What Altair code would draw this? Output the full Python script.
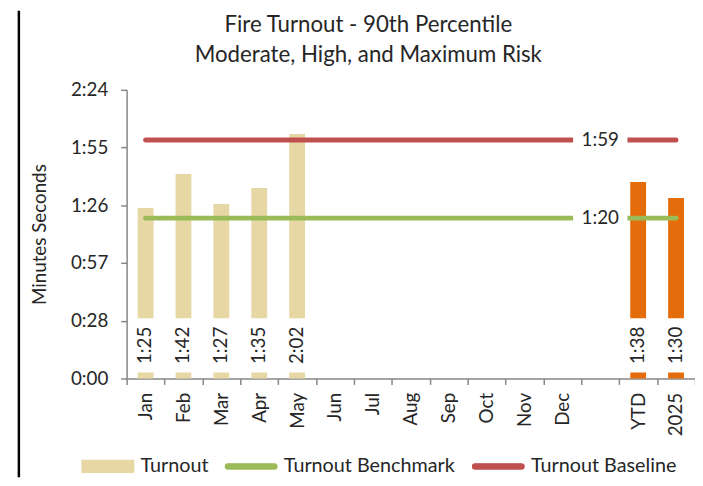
import altair as alt
import pandas as pd

# ---- data ----
categories = ["Jan", "Feb", "Mar", "Apr", "May", "Jun", "Jul", "Aug", "Sep",
              "Oct", "Nov", "Dec", " ", "YTD", "2025"]
bar_categories = ["Jan", "Feb", "Mar", "Apr", "May", "YTD", "2025"]
bar_seconds = [85, 102, 87, 95, 122, 98, 90]
bar_labels = ["1:25", "1:42", "1:27", "1:35", "2:02", "1:38", "1:30"]
bar_groups = ["Monthly", "Monthly", "Monthly", "Monthly", "Monthly", "Summary", "Summary"]

line_series = ["Turnout Benchmark", "Turnout Baseline"]
line_seconds = [80, 119]
line_labels = ["1:20", "1:59"]
line_start = ["Jan", "Jan"]
line_end = ["2025", "2025"]
line_label_cat = [" ", " "]

legend_series = ["Turnout", "Turnout Benchmark", "Turnout Baseline"]
y_ticks = [0, 28.8, 57.6, 86.4, 115.2, 144]

# ---- styles ----
TAN = "#E6D7A5"
ORANGE = "#E46C0A"
GREEN = "#9BBB59"
RED = "#C0504D"
AXIS = "#868686"
TEXT = "#262626"
FONT = "Lato"

W, H = 575, 292

bars_df = pd.DataFrame({"cat": bar_categories, "sec": bar_seconds,
                        "label": bar_labels, "group": bar_groups})
lines_df = pd.DataFrame({"series": line_series, "sec": line_seconds, "label": line_labels,
                         "start": line_start, "end": line_end, "lcat": line_label_cat})
legend_df = pd.DataFrame({"series": legend_series})
border_df = pd.DataFrame({"k": [0]})

x_scale = alt.Scale(domain=categories, paddingInner=0, paddingOuter=0)
y_scale = alt.Scale(domain=[0, 144], nice=False)
series_color = alt.Scale(domain=legend_series, range=[TAN, GREEN, RED])

x_axis = alt.Axis(labelAngle=270, labelAlign="right", labelBaseline="middle",
                  tickBand="extent", tickSize=6, labelPadding=8, labelFontSize=19)
y_axis = alt.Axis(values=y_ticks, tickSize=6, labelPadding=13, labelFontSize=19,
                  labelExpr="floor(datum.value/60) + ':' + (floor(datum.value%60) < 10 ? '0' : '') + floor(datum.value%60)",
                  titleFontSize=19, titleFontWeight="normal",
                  titlePadding=21, titleColor=TEXT)

rect_path = "M-1,-0.23H1V0.23H-1Z"
line_path = "M-0.9,-0.1H0.9A0.1,0.1 0 0 1 0.9,0.1H-0.9A0.1,0.1 0 0 1 -0.9,-0.1Z"
leg = alt.Legend(title=None, orient="none", legendX=-46, legendY=354, direction="horizontal",
                 symbolSize=2704, symbolOpacity=1, labelFontSize=20, labelFont=FONT,
                 labelColor=TEXT, labelOffset=6, columnPadding=14, padding=0,
                 labelLimit=0)

bars = alt.Chart(bars_df).mark_bar(size=16).encode(
    x=alt.X("cat:N", scale=x_scale, axis=x_axis, title=None),
    y=alt.Y("sec:Q", scale=y_scale, axis=y_axis, title="Minutes Seconds"),
    fill=alt.Fill("group:N", scale=alt.Scale(domain=["Monthly", "Summary"], range=[TAN, ORANGE]),
                  legend=None),
)

# invisible carrier of the legend, hidden under the first label box
legend_layer = alt.Chart(legend_df).mark_point(filled=True, size=10).encode(
    x=alt.value(19), y=alt.value(258),
    color=alt.Color("series:N", scale=series_color, legend=leg),
    shape=alt.Shape("series:N", scale=alt.Scale(domain=legend_series,
                                                range=[rect_path, line_path, line_path]),
                    legend=leg),
)

label_boxes = alt.Chart(bars_df).mark_bar(size=18, color="white").encode(
    x="cat:N",
    y=alt.value(231), y2=alt.value(286),
)

bar_text = alt.Chart(bars_df).mark_text(angle=270, fontSize=19, font=FONT, color=TEXT,
                                        baseline="middle", align="center").encode(
    x="cat:N",
    y=alt.value(258.5),
    text="label:N",
)

rules = alt.Chart(lines_df).mark_rule(strokeWidth=5, strokeCap="round").encode(
    x="start:N",
    x2="end:N",
    y="sec:Q",
    color=alt.Color("series:N", scale=series_color, legend=None),
)

gaps = alt.Chart(lines_df).mark_tick(color="white", thickness=18, size=55, opacity=1).encode(
    x="lcat:N",
    y="sec:Q",
)

line_text = alt.Chart(lines_df).mark_text(fontSize=19, font=FONT, color=TEXT,
                                          baseline="middle", align="center").encode(
    x="lcat:N",
    y="sec:Q",
    text="label:N",
)

border = alt.Chart(border_df).mark_rule(color="black", strokeWidth=2.5).encode(
    x=alt.value(-109), y=alt.value(-80), y2=alt.value(392),
)

chart = alt.layer(
    bars, legend_layer, label_boxes, bar_text, rules, gaps, line_text, border
).properties(
    width=W, height=H,
    autosize=alt.AutoSizeParams(type="none"),
    padding={"left": 120, "top": 80, "right": 0, "bottom": 106},
    title=alt.TitleParams("Fire Turnout - 90th Percentile",
                          subtitle="Moderate, High, and Maximum Risk",
                          fontSize=22.5, font=FONT, fontWeight="normal", color=TEXT,
                          subtitleFontSize=22.5, subtitleFont=FONT, subtitleColor=TEXT,
                          subtitleFontWeight="normal", subtitlePadding=8,
                          anchor="middle", dx=-43, offset=-81, baseline="bottom"),
).configure_view(stroke=None).configure_axis(
    grid=False, domainColor=AXIS, tickColor=AXIS, domainWidth=1.5, tickWidth=1.5,
    labelFont=FONT, labelColor=TEXT, titleFont=FONT,
)

chart.save("out.html", embed_options={"renderer": "svg", "actions": False})
